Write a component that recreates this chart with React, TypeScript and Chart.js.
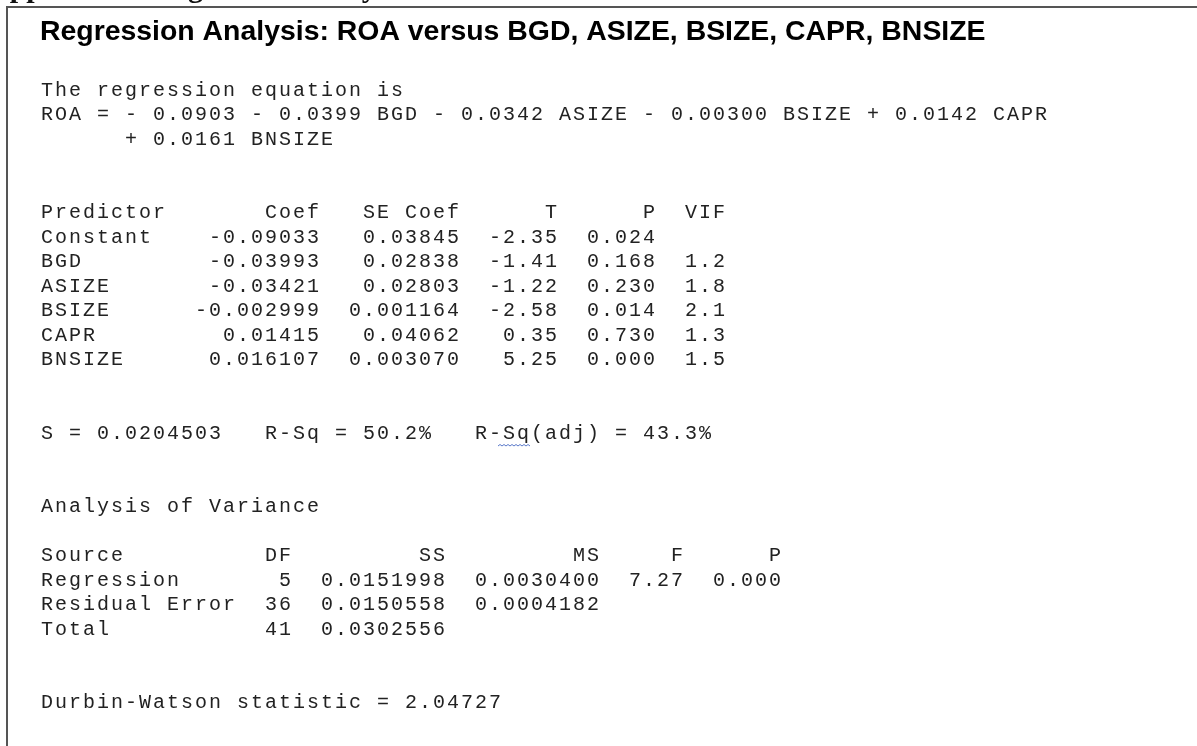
import React, { useEffect, useRef } from "react";
import { Chart, registerables } from "chart.js";

Chart.register(...registerables);

// ---------- content ----------
const headerCut = "Appendix 2: Regression Analysis";
const title = "Regression Analysis: ROA versus BGD, ASIZE, BSIZE, CAPR, BNSIZE";
const equationLines = [
  "The regression equation is",
  "ROA = - 0.0903 - 0.0399 BGD - 0.0342 ASIZE - 0.00300 BSIZE + 0.0142 CAPR",
  "      + 0.0161 BNSIZE",
];
const predictorHeader = ["Predictor", "Coef", "SE Coef", "T", "P", "VIF"];
const predictors = ["Constant", "BGD", "ASIZE", "BSIZE", "CAPR", "BNSIZE"];
const coefs = ["-0.09033", "-0.03993", "-0.03421", "-0.002999", "0.01415", "0.016107"];
const seCoefs = ["0.03845", "0.02838", "0.02803", "0.001164", "0.04062", "0.003070"];
const tValues = ["-2.35", "-1.41", "-1.22", "-2.58", "0.35", "5.25"];
const pValues = ["0.024", "0.168", "0.230", "0.014", "0.730", "0.000"];
const vifValues = ["", "1.2", "1.8", "2.1", "1.3", "1.5"];
const sValue = "0.0204503";
const rSq = "50.2%";
const rSqAdj = "43.3%";
const anovaTitle = "Analysis of Variance";
const anovaHeader = ["Source", "DF", "SS", "MS", "F", "P"];
const sources = ["Regression", "Residual Error", "Total"];
const dfValues = ["5", "36", "41"];
const ssValues = ["0.0151998", "0.0150558", "0.0302556"];
const msValues = ["0.0030400", "0.0004182", ""];
const fValues = ["7.27", "", ""];
const anovaP = ["0.000", "", ""];
const durbinWatson = "2.04727";

// column widths (characters) of the fixed-width report
const coefWidths = [11, 9, 10, 7, 7, 5];
const anovaWidths = [15, 3, 11, 11, 6, 7];

function row(cells: string[], widths: number[]): string {
  return cells
    .map((c, i) => (i === 0 ? c.padEnd(widths[i]) : c.padStart(widths[i])))
    .join("")
    .replace(/\s+$/, "");
}

function buildLines(): { idx: number; text: string }[] {
  const out: { idx: number; text: string }[] = [];
  equationLines.forEach((t, i) => out.push({ idx: i, text: t }));
  out.push({ idx: 5, text: row(predictorHeader, coefWidths) });
  predictors.forEach((p, i) =>
    out.push({
      idx: 6 + i,
      text: row([p, coefs[i], seCoefs[i], tValues[i], pValues[i], vifValues[i]], coefWidths),
    })
  );
  out.push({ idx: 14, text: `S = ${sValue}   R-Sq = ${rSq}   R-Sq(adj) = ${rSqAdj}` });
  out.push({ idx: 17, text: anovaTitle });
  out.push({ idx: 19, text: row(anovaHeader, anovaWidths) });
  sources.forEach((s, i) =>
    out.push({
      idx: 20 + i,
      text: row([s, dfValues[i], ssValues[i], msValues[i], fValues[i], anovaP[i]], anovaWidths),
    })
  );
  out.push({ idx: 25, text: `Durbin-Watson statistic = ${durbinWatson}` });
  return out;
}

const reportPlugin = {
  id: "reportText",
  afterDraw(chart: any) {
    const ctx: CanvasRenderingContext2D = chart.ctx;
    const xs = chart.scales.x;
    const ys = chart.scales.y;
    ctx.save();

    // cropped heading above the frame
    ctx.fillStyle = "#111";
    ctx.font = "bold 30px 'Liberation Serif', 'Times New Roman', serif";
    ctx.textBaseline = "alphabetic";
    ctx.textAlign = "left";
    ctx.fillText(headerCut, -12, -3);

    // frame
    ctx.fillStyle = "#555";
    ctx.fillRect(6, 6, 1197 - 6, 2);
    ctx.fillRect(6, 6, 2, 746 - 6);

    // title
    ctx.fillStyle = "#000";
    ctx.font = "bold 24px 'Liberation Sans', Arial, sans-serif";
    const tw = ctx.measureText(title).width;
    const tfs = (24 * 946) / tw;
    ctx.font = `bold ${tfs.toFixed(2)}px 'Liberation Sans', Arial, sans-serif`;
    ctx.fillText(title, 40, 39.5);

    // fixed-width report
    const pitch = xs.getPixelForValue(1) - xs.getPixelForValue(0);
    const fs = 20;
    ctx.font = `${fs}px 'Liberation Mono', 'Courier New', monospace`;
    const anyCtx = ctx as any;
    const hasLS = "letterSpacing" in anyCtx;
    if (hasLS) anyCtx.letterSpacing = "0px";
    const cw = ctx.measureText("0").width;
    if (hasLS) anyCtx.letterSpacing = `${(pitch - cw).toFixed(3)}px`;
    const offset = (pitch - cw) / 2;
    ctx.fillStyle = "#222";
    const lines = buildLines();
    lines.forEach(({ idx, text }) => {
      const y = ys.getPixelForValue(idx) + 6.5;
      const x0 = xs.getPixelForValue(0) + offset;
      if (hasLS) {
        ctx.fillText(text, x0, y);
      } else {
        for (let k = 0; k < text.length; k++) {
          ctx.fillText(text[k], x0 + k * pitch, y);
        }
      }
    });
    if (hasLS) anyCtx.letterSpacing = "0px";

    // spell-check squiggle under "Sq" of R-Sq(adj)
    const sLine = `S = ${sValue}   R-Sq = ${rSq}   `;
    const col = sLine.length + 2;
    const sx = xs.getPixelForValue(col) - 4;
    const ex = xs.getPixelForValue(col + 2) + 1;
    const sy = ys.getPixelForValue(14) + 14;
    ctx.strokeStyle = "#5a78c8";
    ctx.lineWidth = 1;
    ctx.beginPath();
    let up = false;
    ctx.moveTo(sx, sy);
    for (let x = sx + 2; x <= ex; x += 2) {
      up = !up;
      ctx.lineTo(x, up ? sy - 1.5 : sy);
    }
    ctx.stroke();

    ctx.restore();
  },
};

export default function App() {
  const ref = useRef<HTMLCanvasElement | null>(null);
  useEffect(() => {
    document.body.style.margin = "0";
    document.body.style.background = "#ffffff";
    if (!ref.current) return;
    const chart = new Chart(ref.current, {
      type: "scatter",
      data: { datasets: [{ data: [] }] },
      options: {
        animation: false,
        responsive: false,
        maintainAspectRatio: false,
        layout: { padding: 0 },
        plugins: { legend: { display: false }, tooltip: { enabled: false } },
        scales: {
          x: { type: "linear", display: false, min: -40 / 14, max: (1197 - 40) / 14 },
          y: {
            type: "linear",
            display: false,
            reverse: true,
            min: -89 / 24.5,
            max: (746 - 89) / 24.5,
          },
        },
      },
      plugins: [reportPlugin],
    });
    return () => chart.destroy();
  }, []);
  return (
    <div style={{ position: "absolute", left: 0, top: 0, width: 1197, height: 746, background: "#fff" }}>
      <canvas ref={ref} width={1197} height={746} style={{ display: "block" }} />
    </div>
  );
}
